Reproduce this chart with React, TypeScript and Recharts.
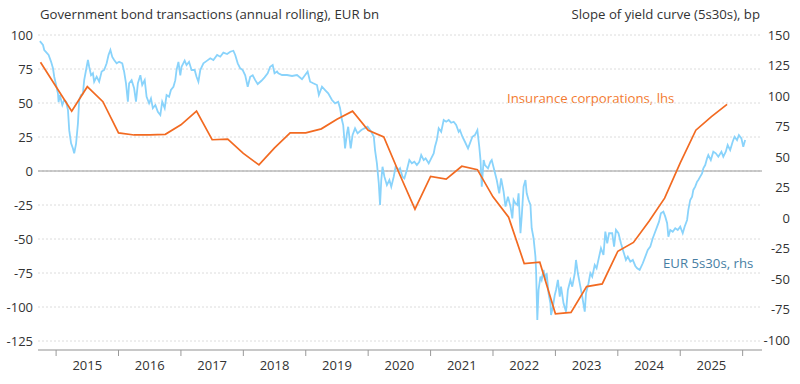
import React from "react";
import {
  LineChart, Line, XAxis, YAxis, CartesianGrid, ReferenceLine,
} from "recharts";

// quarterly rolling insurance corp. govt bond purchases, EUR bn (lhs), first point Q3 2014
const insuranceStart = 2014.75;
const insuranceValues = [
  80, 62, 44, 62, 51, 28, 26.5, 26.5, 27, 34, 44, 23, 23.5, 13, 4.5, 17, 28,
  28, 31, 38, 44, 30, 25, -2, -28, -4, -6, 3.5, 1, -19, -34, -68, -67, -105,
  -104, -85, -83, -59, -52.5, -37, -20, 6, 30, 40, 49,
];

// EUR 5s30s slope, bp (rhs): [year fraction, value]
const curvePoints: [number, number][] = [
  [2014.74, 145], [2014.79, 141.8], [2014.81, 137.7], [2014.84, 136], [2014.88, 133.6],
  [2014.92, 128], [2014.95, 122.7], [2014.97, 115.8], [2015.0, 109], [2015.03, 102],
  [2015.04, 95], [2015.06, 100.8], [2015.1, 92.6], [2015.13, 96.7], [2015.16, 95.3],
  [2015.19, 88.5], [2015.21, 72], [2015.24, 61.2], [2015.27, 57], [2015.29, 53],
  [2015.32, 61], [2015.35, 77.6], [2015.37, 96.7], [2015.4, 100.8], [2015.43, 102],
  [2015.45, 113], [2015.48, 121.3], [2015.51, 129.5], [2015.53, 124], [2015.56, 117],
  [2015.59, 118.6], [2015.61, 111.7], [2015.65, 115.8], [2015.69, 111.7], [2015.73, 120],
  [2015.77, 121.3], [2015.81, 126.8], [2015.84, 133.6], [2015.87, 137.7], [2015.9, 132],
  [2015.93, 129.5], [2015.97, 126.8], [2016.01, 128], [2016.06, 126.8], [2016.09, 120],
  [2016.12, 110.4], [2016.15, 95.3], [2016.17, 110.4], [2016.21, 113], [2016.25, 106.3],
  [2016.28, 95.3], [2016.31, 110.4], [2016.35, 117], [2016.38, 109], [2016.42, 113],
  [2016.45, 99.4], [2016.49, 94], [2016.52, 98], [2016.55, 90], [2016.59, 92.6],
  [2016.63, 87], [2016.67, 84.4], [2016.7, 95.3], [2016.74, 90], [2016.77, 100.8],
  [2016.81, 99.4], [2016.84, 105], [2016.88, 107.6], [2016.91, 113], [2016.93, 121.3],
  [2016.96, 128], [2016.99, 117], [2017.01, 124], [2017.06, 129], [2017.09, 125.4],
  [2017.13, 128], [2017.17, 121.3], [2017.22, 121.3], [2017.25, 115.8], [2017.28, 111.7],
  [2017.31, 121.3], [2017.36, 126.8], [2017.42, 129], [2017.47, 130.9], [2017.52, 129.5],
  [2017.58, 133.6], [2017.63, 132.2], [2017.68, 135.5], [2017.74, 134.4], [2017.79, 136.3],
  [2017.84, 137.1], [2017.87, 133.6], [2017.91, 126.8], [2017.95, 122.7], [2017.99, 121.3],
  [2018.03, 117], [2018.07, 107.6], [2018.11, 115.8], [2018.15, 117], [2018.19, 113],
  [2018.23, 109.8], [2018.29, 112.5], [2018.34, 115.3], [2018.39, 118.6], [2018.43, 124],
  [2018.47, 125.4], [2018.5, 118.6], [2018.54, 120], [2018.56, 118.6], [2018.62, 117.2],
  [2018.7, 117.2], [2018.78, 116.4], [2018.86, 117.2], [2018.94, 113.7], [2018.99, 117.2],
  [2019.03, 120], [2019.07, 111.7], [2019.12, 110.4], [2019.18, 109], [2019.21, 100.8],
  [2019.26, 107.6], [2019.31, 104.9], [2019.36, 102.2], [2019.42, 96.7], [2019.47, 94],
  [2019.52, 95.3], [2019.55, 90], [2019.58, 80.3], [2019.6, 76.2], [2019.63, 57.1],
  [2019.66, 69.4], [2019.68, 74.8], [2019.72, 57.1], [2019.75, 68], [2019.79, 73.5],
  [2019.83, 69.4], [2019.89, 72.1], [2019.94, 73.5], [2019.99, 74.8], [2020.05, 70.7],
  [2020.09, 66.6], [2020.11, 55.7], [2020.14, 44.8], [2020.17, 28.4], [2020.19, 10.7],
  [2020.21, 31.1], [2020.23, 42], [2020.26, 33.9], [2020.3, 27], [2020.34, 31.1],
  [2020.37, 25.7], [2020.41, 33.9], [2020.44, 42], [2020.49, 39.3], [2020.51, 40.7],
  [2020.55, 33.9], [2020.58, 32.5], [2020.62, 39.3], [2020.66, 47.5], [2020.7, 44.8],
  [2020.74, 46.1], [2020.78, 43.4], [2020.82, 46.1], [2020.85, 51.6], [2020.89, 47.5],
  [2020.92, 48.9], [2020.97, 44.8], [2021.01, 48.9], [2021.05, 53], [2021.07, 58.4],
  [2021.1, 63.9], [2021.13, 73.5], [2021.17, 70.7], [2021.21, 80.3], [2021.25, 78.9],
  [2021.29, 80.3], [2021.33, 78.1], [2021.37, 78.9], [2021.41, 76.2], [2021.45, 70.7],
  [2021.47, 72.1], [2021.51, 66.6], [2021.55, 62.5], [2021.6, 57.1], [2021.63, 61.2],
  [2021.67, 66.6], [2021.71, 68], [2021.75, 72.1], [2021.78, 58.4], [2021.8, 47.5],
  [2021.82, 25.7], [2021.85, 47.5], [2021.87, 43.4], [2021.92, 40.7], [2021.96, 46.1],
  [2021.98, 47.5], [2022.02, 39.3], [2022.06, 31.1], [2022.1, 20.2], [2022.13, 32.5],
  [2022.17, 21.6], [2022.2, 9.3], [2022.24, 17.5], [2022.28, 9.3], [2022.31, -0.3],
  [2022.33, 14.8], [2022.36, 12], [2022.39, 10.7], [2022.41, 20.2], [2022.44, -12.5],
  [2022.46, 1.1], [2022.49, 25.7], [2022.52, 31.1], [2022.54, 20.2], [2022.57, 14.8],
  [2022.6, 10.7], [2022.62, -8.4], [2022.65, -16.6], [2022.68, -31.7], [2022.69, -42.6],
  [2022.71, -83.6], [2022.73, -59], [2022.76, -48.1], [2022.78, -50.8], [2022.81, -42.6],
  [2022.84, -50.8], [2022.86, -45.3], [2022.89, -61.7], [2022.92, -69.9], [2022.93, -79.5],
  [2022.96, -72.7], [2022.99, -63.1], [2023.01, -59], [2023.04, -50.8], [2023.07, -64.5],
  [2023.09, -56.3], [2023.13, -69.9], [2023.17, -76.8], [2023.2, -59], [2023.24, -50.8],
  [2023.27, -56.3], [2023.31, -45.3], [2023.33, -34.4], [2023.36, -45.3], [2023.4, -56.3],
  [2023.43, -64.5], [2023.47, -76.8], [2023.49, -61.7], [2023.53, -53.5], [2023.56, -45.3],
  [2023.59, -48.1], [2023.63, -38.5], [2023.66, -41.2], [2023.7, -31.7], [2023.73, -24.8],
  [2023.77, -30.3], [2023.8, -11.2], [2023.83, -20.7], [2023.86, -12.5], [2023.91, -12.5],
  [2023.94, -23.5], [2023.97, -9.8], [2024.01, -12.5], [2024.05, -20.7], [2024.09, -27.6],
  [2024.13, -34.4], [2024.16, -31.7], [2024.2, -35.8], [2024.24, -34.4], [2024.28, -39.3],
  [2024.31, -41.2], [2024.35, -42.6], [2024.4, -37.1], [2024.44, -31.7], [2024.48, -26.2],
  [2024.52, -23.5], [2024.56, -16.6], [2024.59, -12.5], [2024.63, -7.1], [2024.66, -3],
  [2024.69, 3.9], [2024.73, 5.2], [2024.76, 1.1], [2024.79, -4.3], [2024.81, -15.3],
  [2024.84, -9.8], [2024.88, -11.2], [2024.92, -8.4], [2024.96, -9.8], [2025.0, -7.1],
  [2025.04, -12.5], [2025.07, -7.1], [2025.11, -1.6], [2025.13, 6.6], [2025.16, 14.8],
  [2025.19, 17.5], [2025.21, 23], [2025.24, 25.7], [2025.27, 29.8], [2025.29, 31.1],
  [2025.32, 33.9], [2025.35, 36.6], [2025.37, 40.7], [2025.4, 43.4], [2025.43, 48.9],
  [2025.45, 51.6], [2025.49, 47.5], [2025.53, 54.3], [2025.57, 53], [2025.61, 50.2],
  [2025.66, 54.3], [2025.69, 50.2], [2025.73, 54.3], [2025.76, 59.8], [2025.8, 55.7],
  [2025.84, 62.5], [2025.87, 66.6], [2025.91, 63.9], [2025.94, 68], [2025.98, 65.3],
  [2026.01, 58.4], [2026.04, 63.9],
];

const yearTicks = [2015, 2016, 2017, 2018, 2019, 2020, 2021, 2022, 2023, 2024, 2025, 2026];
const yearLabels = [2015, 2016, 2017, 2018, 2019, 2020, 2021, 2022, 2023, 2024, 2025];
const leftTicks = [100, 75, 50, 25, 0, -25, -50, -75, -100, -125];
const rightTicks = [150, 125, 100, 75, 50, 25, 0, -25, -50, -75, -100];

const insuranceData = insuranceValues.map((v, i) => ({ t: insuranceStart + i * 0.25, v }));
const curveData = curvePoints.map(([t, v]) => ({ t, v }));

const FONT = "'Open Sans', sans-serif";
const ORANGE = "#f26a21";
const BLUE = "#89d3fb";
const TEXT = "#333";

const RightTick = ({ x, y, payload }: any) => (
  <text x={x + 28} y={y} dy="0.35em" textAnchor="end" fill={TEXT} fontSize={13} fontFamily={FONT}>
    {payload.value}
  </text>
);

export default function App() {
  return (
    <div style={{ position: "absolute", left: 0, top: 0, width: 800, height: 384, fontFamily: FONT }}>
      <div style={{ position: "absolute", left: 40, top: 5, fontSize: 13.2, color: TEXT }}>
        Government bond transactions (annual rolling), EUR bn
      </div>
      <div style={{ position: "absolute", right: 40, top: 5, fontSize: 13.2, color: TEXT }}>
        Slope of yield curve (5s30s), bp
      </div>
      <div style={{ position: "absolute", left: 507, top: 89, fontSize: 13.2, color: "#f37a2e" }}>
        Insurance corporations, lhs
      </div>
      <div style={{ position: "absolute", left: 663, top: 254, fontSize: 13.2, color: "#477ea3" }}>
        EUR 5s30s, rhs
      </div>
      <LineChart width={800} height={384} margin={{ top: 35, right: 0, bottom: 0, left: 0 }}>
        <CartesianGrid yAxisId="left" xAxisId="a" vertical={false} stroke="#dcdcdc" strokeDasharray="2 2" />
        <XAxis
          xAxisId="a" type="number" dataKey="t" domain={[2014.71, 2026.31]} ticks={yearTicks}
          tickFormatter={() => ""} height={8} tickSize={6} stroke="#c8c8c8" strokeWidth={2}
          tickLine={{ stroke: "#999", strokeWidth: 1 }} allowDataOverflow
        />
        <XAxis
          xAxisId="b" type="number" dataKey="t" domain={[2014.71, 2026.31]}
          ticks={yearLabels.map((y) => y + 0.5)} tickFormatter={(v) => String(Math.floor(v))}
          height={26} axisLine={false} tickLine={false} tickSize={0} tickMargin={3}
          tick={{ fill: TEXT, fontSize: 13, fontFamily: FONT }} allowDataOverflow
        />
        <YAxis
          yAxisId="left" domain={[-131.6, 100]} ticks={leftTicks} width={38}
          axisLine={false} tickLine={false} tickSize={0} tickMargin={5} allowDataOverflow
          tick={{ fill: TEXT, fontSize: 13, fontFamily: FONT }}
        />
        <YAxis
          yAxisId="right" orientation="right" domain={[-108.2, 150]} ticks={rightTicks} width={38}
          axisLine={false} tickLine={false} tickSize={0} tickMargin={0} allowDataOverflow
          tick={<RightTick />}
        />
        <ReferenceLine yAxisId="left" xAxisId="a" y={0} stroke="#9a9a9a" strokeWidth={1} />
        <Line
          data={curveData} xAxisId="a" yAxisId="right" dataKey="v" type="linear"
          stroke={BLUE} strokeWidth={1.8} dot={false} isAnimationActive={false}
        />
        <Line
          data={insuranceData} xAxisId="a" yAxisId="left" dataKey="v" type="linear"
          stroke={ORANGE} strokeWidth={1.7} dot={false} isAnimationActive={false}
        />
      </LineChart>
    </div>
  );
}
